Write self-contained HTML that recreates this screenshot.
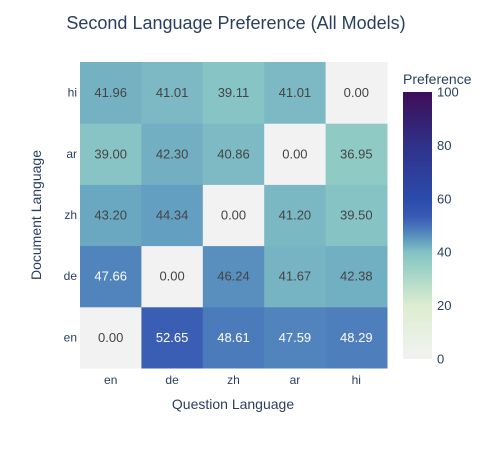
<!DOCTYPE html>
<html><head><meta charset="utf-8"><style>
body{margin:0;background:#fff;}
svg text{font-family:"Liberation Sans",Arial,sans-serif;}
</style></head><body>
<svg id="c" width="500" height="450" xmlns="http://www.w3.org/2000/svg">
<defs>
<linearGradient id="cg" x1="0" y1="1" x2="0" y2="0"></linearGradient>
</defs>
<text x="236" y="29" text-anchor="middle" font-size="18" fill="#2a3f5f">Second Language Preference (All Models)</text>
<text x="233" y="409" text-anchor="middle" font-size="14" fill="#2a3f5f">Question Language</text>
<text transform="translate(41,215) rotate(-90)" text-anchor="middle" font-size="14" fill="#2a3f5f">Document Language</text>
<g id="cells"></g>
<text x="403" y="84" font-size="14" fill="#2a3f5f">Preference</text>
<rect x="403" y="92" width="29" height="267" fill="url(#cg)"/>
<g id="cbticks"></g>
</svg>
<script>
const xCats=["en","de","zh","ar","hi"];
const yCats=["en","de","zh","ar","hi"];
const z=[
 [0.00,52.65,48.61,47.59,48.29],
 [47.66,0.00,46.24,41.67,42.38],
 [43.20,44.34,0.00,41.20,39.50],
 [39.00,42.30,40.86,0.00,36.95],
 [41.96,41.01,39.11,41.01,0.00]
];
const cbTicks=[0,20,40,60,80,100];
const stops=[[0,"#f2f2f2"],[0.2,"#dcedd0"],[0.37,"#8fcbc4"],[0.4,"#84c1c5"],[0.44,"#64a2c0"],[0.48,"#4f80bd"],[0.53,"#3a5bb4"],[0.6,"#2b4bab"],[0.8,"#2f3188"],[1,"#3f0d58"]];
const NS="http://www.w3.org/2000/svg";
const X0=80,X1=387,Y0=62,Y1=368;
const cw=(X1-X0)/xCats.length,ch=(Y1-Y0)/yCats.length;
const xPos=i=>X0+i*cw, yPos=j=>Y1-(j+1)*ch;
function hex(h){return [1,3,5].map(i=>parseInt(h.substr(i,2),16));}
function color(v){const t=Math.max(0,Math.min(1,v/100));
 for(let k=1;k<stops.length;k++){if(t<=stops[k][0]){const a=stops[k-1],b=stops[k];const f=(t-a[0])/(b[0]-a[0]);const ca=hex(a[1]),cb=hex(b[1]);return "rgb("+ca.map((c,i)=>Math.round(c+(cb[i]-c)*f)).join(",")+")";}}
 return stops[stops.length-1][1];}
const g=document.getElementById("cells");
z.forEach((row,j)=>row.forEach((v,i)=>{
 const r=document.createElementNS(NS,"rect");
 r.setAttribute("x",xPos(i));r.setAttribute("y",yPos(j));r.setAttribute("width",cw+0.5);r.setAttribute("height",ch+0.5);r.setAttribute("fill",color(v));
 
 
 g.appendChild(r);
 const t=document.createElementNS(NS,"text");
 t.setAttribute("x",xPos(i)+cw/2);t.setAttribute("y",yPos(j)+ch/2+4.5);t.setAttribute("text-anchor","middle");t.setAttribute("font-size","13");
 t.setAttribute("fill",v>47?"#fff":"#444");t.textContent=v.toFixed(2);
 
 
 g.appendChild(t);
}));
xCats.forEach((c,i)=>{const t=document.createElementNS(NS,"text");t.setAttribute("x",xPos(i)+cw/2);t.setAttribute("y",384);t.setAttribute("text-anchor","middle");t.setAttribute("font-size","12");t.setAttribute("fill","#2a3f5f");t.textContent=c;
 
 
 g.appendChild(t);});
yCats.forEach((c,j)=>{const t=document.createElementNS(NS,"text");t.setAttribute("x",77);t.setAttribute("y",yPos(j)+ch/2+4);t.setAttribute("text-anchor","end");t.setAttribute("font-size","12");t.setAttribute("fill","#2a3f5f");t.textContent=c;
 
 
 g.appendChild(t);});
const grad=document.getElementById("cg");
stops.forEach(s=>{const st=document.createElementNS(NS,"stop");st.setAttribute("offset",s[0]);st.setAttribute("stop-color",s[1]);grad.appendChild(st);});
const cbt=document.getElementById("cbticks");
cbTicks.forEach(v=>{const t=document.createElementNS(NS,"text");t.setAttribute("x",437);t.setAttribute("y",359-v/100*267+4.5);t.setAttribute("font-size","13");t.setAttribute("fill","#2a3f5f");t.textContent=v;
 
 
 cbt.appendChild(t);});
</script>
</body></html>
